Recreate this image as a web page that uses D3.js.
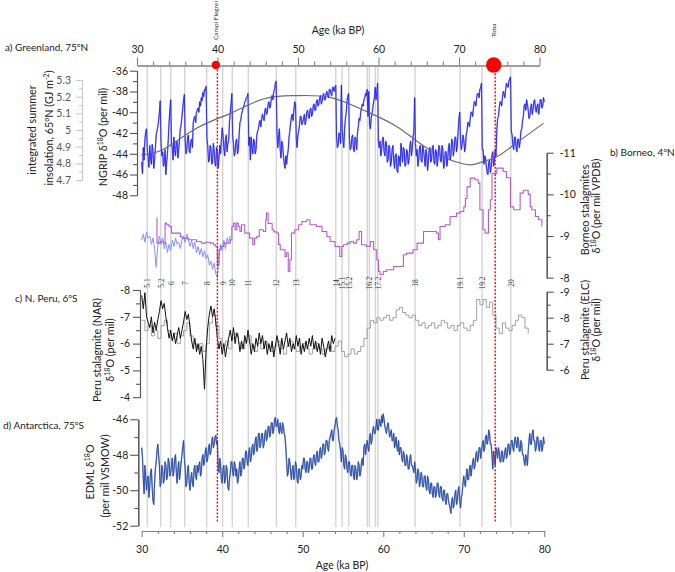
<!DOCTYPE html>
<html><head><meta charset="utf-8">
<script src="https://cdn.jsdelivr.net/npm/d3@7"></script>
<style>body{margin:0;background:#fff} svg{display:block}</style>
</head><body><svg id="c" width="675" height="572"></svg>
<script>
// ---------------- DATA ----------------
const iceStart = 30, iceStep = 0.1;
// NGRIP d18O (per mil), 30-80 ka at 0.1 ka (one row per ka)
const ngrip = [
-44.8,-45.9,-43.4,-44.6,-42.6,-41.9,-41.6,-43.6,-44.4,-45.3,
-43.2,-44.4,-45.0,-43.1,-43.8,-45.4,-44.6,-43.4,-42.2,-41.8,
-41.4,-40.8,-40.0,-38.9,-43.0,-44.2,-43.8,-45.2,-44.9,-43.6,
-46.0,-44.8,-44.0,-42.6,-41.0,-39.8,-38.8,-43.0,-43.5,-44.6,
-42.4,-43.6,-44.2,-42.9,-42.8,-44.4,-43.6,-42.6,-41.6,-41.2,
-40.4,-39.6,-38.8,-38.3,-42.8,-44.0,-43.6,-42.4,-42.2,-43.8,
-43.9,-42.8,-42.6,-43.4,-41.0,-40.6,-40.4,-41.0,-40.0,-39.8,
-39.6,-40.0,-39.0,-39.4,-38.6,-38.9,-38.1,-38.5,-37.8,-37.9,
-37.5,-42.6,-43.2,-44.8,-44.6,-43.2,-43.4,-45.0,-44.8,-43.0,
-43.6,-44.9,-45.2,-43.4,-43.8,-45.4,-44.4,-43.2,-44.0,-42.6,
-41.5,-42.2,-43.4,-44.2,-42.6,-42.2,-43.8,-43.0,-42.8,-41.0,
-40.0,-39.2,-38.2,-42.4,-43.0,-44.2,-43.9,-42.8,-42.6,-44.0,
-43.6,-42.2,-41.0,-40.8,-40.2,-39.9,-39.6,-39.4,-39.0,-38.9,
-38.6,-38.5,-38.2,-43.2,-42.4,-44.6,-42.4,-43.4,-44.0,-42.6,
-42.8,-44.0,-43.6,-42.2,-41.8,-41.6,-41.0,-40.8,-41.4,-40.6,
-40.2,-40.6,-40.8,-39.8,-39.6,-40.2,-40.0,-39.2,-39.0,-39.6,
-39.4,-38.6,-38.4,-38.8,-38.0,-37.8,-37.2,-37.0,-42.0,-43.4,
-42.4,-41.6,-43.6,-44.4,-42.8,-43.2,-44.2,-45.0,-45.4,-44.2,
-45.0,-44.2,-43.6,-42.4,-41.8,-41.0,-40.4,-40.2,-40.8,-39.8,
-39.0,-39.2,-42.6,-43.4,-42.2,-41.8,-41.2,-40.4,-40.4,-41.2,
-41.0,-40.6,-40.2,-41.2,-40.8,-40.0,-39.8,-40.4,-40.6,-39.8,
-39.6,-40.4,-40.2,-39.4,-39.2,-39.8,-39.8,-39.0,-38.8,-39.4,
-39.2,-38.6,-38.4,-39.2,-39.0,-38.4,-38.2,-38.8,-38.8,-38.2,
-38.0,-38.4,-38.6,-37.8,-37.8,-38.2,-38.4,-37.6,-37.6,-38.0,
-37.6,-37.4,-42.4,-43.4,-43.2,-42.0,-42.2,-43.0,-37.4,-41.6,
-42.8,-43.4,-41.6,-40.6,-40.0,-39.0,-38.4,-38.2,-42.6,-43.6,
-43.4,-42.4,-42.2,-43.6,-43.8,-42.4,-42.6,-43.6,-42.0,-41.4,
-40.6,-40.8,-40.0,-39.6,-39.2,-39.4,-38.8,-38.6,-38.2,-38.4,
-37.8,-40.4,-38.0,-41.2,-41.6,-40.6,-40.2,-39.6,-39.0,-38.6,
-37.6,-38.8,-38.0,-37.2,-42.8,-43.4,-42.8,-44.2,-43.6,-42.6,
-42.4,-43.8,-44.2,-42.8,-43.0,-44.8,-44.6,-43.2,-43.4,-45.2,
-44.8,-43.6,-43.2,-44.6,-45.4,-44.2,-44.0,-45.6,-45.8,-44.2,
-44.4,-45.2,-43.0,-43.8,-44.8,-43.4,-43.6,-45.2,-45.0,-43.6,
-43.8,-45.0,-44.6,-43.2,-42.8,-44.2,-43.6,-42.4,-41.8,-38.6,
-43.0,-44.2,-43.6,-45.2,-44.6,-43.4,-43.2,-44.6,-44.8,-43.2,
-43.6,-44.4,-45.2,-43.6,-44.0,-45.6,-44.8,-43.6,-43.4,-44.8,
-44.6,-43.4,-43.2,-44.8,-45.0,-43.6,-43.8,-45.2,-44.4,-43.2,
-43.4,-44.6,-44.8,-43.2,-43.6,-45.4,-45.0,-43.8,-43.8,-45.2,
-44.6,-43.4,-43.0,-44.6,-44.2,-42.6,-42.8,-44.2,-43.6,-42.4,
-42.4,-43.8,-43.2,-41.8,-40.6,-40.0,-42.8,-43.6,-43.0,-42.2,
-42.6,-43.8,-43.4,-42.2,-41.8,-41.0,-41.0,-41.4,-40.6,-40.0,
-40.0,-40.4,-39.6,-39.0,-39.0,-39.4,-38.6,-38.2,-38.2,-38.6,
-37.8,-37.6,-37.2,-43.6,-43.6,-45.0,-44.2,-44.4,-45.2,-45.8,
-46.0,-44.8,-44.6,-45.8,-45.4,-44.2,-43.8,-45.2,-44.8,-43.6,
-44.2,-41.8,-40.6,-40.4,-39.6,-39.0,-39.0,-39.4,-38.6,-38.0,
-38.2,-38.6,-37.8,-37.2,-37.4,-37.6,-37.0,-36.8,-36.6,-41.8,
-42.2,-43.2,-43.6,-42.4,-42.4,-43.4,-43.8,-42.6,-42.6,-43.4,
-42.8,-41.8,-41.6,-40.8,-40.4,-39.4,-39.2,-39.8,-38.8,-39.2,
-39.8,-40.6,-40.4,-39.6,-39.2,-40.2,-39.8,-39.0,-38.8,-39.6,
-40.0,-39.4,-39.2,-40.2,-39.6,-38.8,-38.8,-39.6,-39.4,-38.6,
-39.0];
// EDML d18O (per mil VSMOW), 30-80 ka at 0.1 ka (one row per ka)
const edml = [
-47.6,-48.2,-49.4,-50.2,-48.6,-49.2,-50.0,-49.4,-49.2,-50.4,
-49.8,-49.0,-48.8,-49.8,-50.6,-50.8,-49.6,-48.8,-48.4,-47.8,
-47.4,-48.0,-48.6,-49.8,-49.6,-48.6,-48.8,-49.6,-49.4,-48.4,
-48.6,-49.4,-49.2,-48.2,-48.4,-49.2,-49.0,-48.6,-48.2,-49.2,
-48.9,-48.2,-48.0,-49.0,-49.6,-48.8,-48.4,-49.4,-49.0,-48.4,
-48.0,-47.6,-47.2,-48.2,-48.8,-49.8,-49.6,-48.8,-48.6,-49.6,
-50.0,-49.4,-49.0,-49.6,-49.8,-48.8,-48.6,-49.2,-49.4,-48.6,
-49.0,-48.6,-48.4,-49.2,-49.0,-48.2,-48.0,-48.6,-48.4,-47.8,
-47.6,-48.4,-48.2,-47.6,-47.4,-48.0,-47.8,-47.2,-47.0,-47.6,
-47.4,-47.0,-46.9,-47.4,-47.2,-48.8,-49.0,-48.2,-48.6,-49.4,
-49.6,-48.8,-48.6,-49.6,-49.4,-48.6,-48.8,-49.8,-50.0,-49.4,
-49.0,-48.4,-48.4,-49.0,-49.2,-48.4,-48.6,-49.2,-48.8,-49.6,
-49.4,-48.8,-48.4,-49.2,-49.0,-48.2,-48.2,-48.8,-48.6,-47.8,
-47.8,-48.4,-48.6,-47.8,-47.6,-48.4,-48.2,-47.6,-47.4,-48.0,
-47.8,-47.2,-47.0,-47.8,-47.6,-46.8,-46.8,-47.6,-47.4,-46.8,
-46.8,-47.6,-47.4,-46.8,-46.6,-47.2,-47.0,-46.4,-46.4,-47.0,
-46.8,-46.2,-46.2,-46.8,-46.6,-46.0,-45.9,-46.4,-46.4,-46.0,
-46.6,-46.8,-46.2,-46.6,-46.8,-46.2,-46.4,-46.8,-47.0,-47.6,
-48.4,-49.2,-49.0,-48.2,-48.4,-49.0,-49.4,-48.8,-48.6,-49.4,
-49.2,-48.4,-48.6,-49.4,-49.6,-48.8,-48.8,-49.4,-49.2,-48.6,
-48.8,-48.2,-48.2,-48.8,-49.0,-48.4,-48.4,-49.0,-48.8,-48.2,
-48.2,-48.8,-48.8,-48.2,-48.0,-48.4,-48.6,-48.0,-47.8,-48.4,
-48.4,-47.8,-47.6,-48.2,-48.0,-47.4,-47.4,-48.0,-47.8,-47.2,
-47.2,-47.6,-47.8,-47.2,-47.0,-46.8,-46.6,-47.2,-47.2,-46.6,
-46.4,-46.0,-45.9,-46.4,-46.6,-47.2,-47.4,-47.8,-48.4,-47.6,
-47.8,-48.6,-48.8,-48.0,-48.2,-48.8,-49.0,-48.4,-48.4,-49.0,
-49.2,-48.6,-48.6,-49.2,-49.4,-48.6,-48.8,-49.4,-49.2,-48.4,
-48.6,-49.2,-49.0,-48.4,-48.2,-48.6,-47.6,-47.4,-48.0,-47.6,
-47.2,-47.6,-47.8,-47.0,-46.8,-47.4,-47.2,-46.6,-46.4,-46.8,
-46.8,-46.4,-46.0,-46.6,-46.6,-46.0,-46.2,-46.4,-45.8,-46.2,
-45.7,-46.0,-46.4,-46.6,-46.8,-46.4,-46.2,-46.6,-47.0,-46.8,
-46.6,-47.2,-47.2,-46.8,-47.6,-47.4,-47.0,-47.6,-47.8,-47.2,
-48.0,-47.6,-47.6,-48.2,-48.4,-47.8,-48.0,-48.6,-48.6,-48.0,
-48.2,-48.8,-48.8,-48.2,-48.0,-48.6,-48.6,-48.8,-49.0,-48.4,
-48.8,-49.6,-49.4,-48.8,-49.0,-49.8,-49.6,-49.0,-49.2,-49.8,
-49.8,-49.2,-49.2,-49.8,-50.0,-49.2,-49.4,-50.0,-50.2,-49.6,
-49.6,-50.2,-50.4,-49.8,-49.8,-50.4,-50.2,-49.6,-49.6,-50.2,
-50.4,-49.8,-49.8,-50.4,-50.6,-50.0,-50.0,-50.6,-50.8,-50.2,
-50.2,-50.6,-50.8,-51.0,-51.3,-50.6,-50.4,-51.0,-50.8,-50.2,
-50.0,-50.8,-50.6,-50.0,-49.8,-50.6,-51.0,-50.4,-50.2,-49.6,
-49.2,-49.6,-49.8,-49.2,-48.8,-49.4,-49.4,-48.8,-48.6,-49.2,
-48.8,-48.4,-48.2,-48.8,-48.6,-48.0,-47.8,-48.4,-48.2,-47.6,
-47.6,-48.2,-47.8,-47.4,-47.2,-47.8,-47.6,-47.0,-46.9,-47.4,
-47.2,-46.6,-46.8,-47.4,-47.4,-48.0,-48.8,-47.8,-48.2,-48.6,
-47.6,-47.8,-48.2,-47.6,-47.8,-48.4,-48.4,-47.8,-47.8,-48.4,
-48.2,-47.8,-47.6,-48.2,-48.0,-47.4,-47.4,-48.0,-47.8,-47.2,
-47.2,-47.6,-47.8,-47.2,-47.0,-47.4,-47.6,-47.0,-47.2,-47.8,
-47.8,-47.2,-47.4,-48.0,-48.0,-48.4,-48.6,-48.0,-48.2,-48.6,
-47.8,-47.2,-46.8,-47.4,-47.4,-46.8,-46.6,-47.2,-47.2,-47.8,
-47.6,-47.0,-47.0,-47.6,-47.8,-47.2,-47.2,-47.8,-47.6,-47.0,
-47.4];
// 65N integrated summer insolation (GJ m-2)
const insolation = [[29.9,4.85],[32.7,4.884],[36.8,5.01],[41.0,5.10],[45.1,5.186],[49.1,5.206],[53.4,5.196],[57.5,5.12],[61.7,5.02],[65.8,4.88],[70.0,4.796],[72.0,4.804],[74.1,4.84],[76.2,4.91],[79.9,5.04]];
// Borneo stalagmites d18O (per mil VPDB), stepped record [age, value]
const borneo = [[31.86,-9.43],[31.9,-8.83],[32.3,-8.87],[32.7,-8.83],[32.9,-9.31],[33.1,-9.27],[33.4,-9.23],[33.7,-9.07],[34.5,-9.07],[34.8,-8.99],[35.0,-8.95],[35.8,-8.91],[36.8,-8.87],[37.4,-8.83],[37.9,-8.85],[38.5,-8.83],[38.9,-8.79],[39.2,-8.75],[39.4,-8.3],[39.6,-8.67],[39.8,-8.75],[40.2,-8.83],[41.0,-8.91],[41.2,-9.23],[41.4,-9.31],[41.6,-9.15],[41.8,-9.31],[42.0,-9.23],[42.2,-9.11],[42.4,-9.27],[42.8,-9.07],[43.4,-8.95],[43.8,-8.79],[44.0,-8.95],[44.3,-8.99],[44.6,-9.15],[45.1,-9.11],[45.4,-9.39],[45.5,-9.55],[45.7,-9.3],[46.2,-9.15],[46.4,-9.1],[46.8,-9.07],[47.0,-8.8],[47.2,-8.67],[47.8,-8.51],[48.0,-8.6],[48.2,-8.15],[48.4,-8.43],[48.6,-9.07],[49.0,-9.15],[49.5,-9.27],[49.9,-9.35],[50.5,-9.39],[50.9,-9.27],[51.7,-9.23],[52.4,-9.11],[53.0,-8.99],[53.4,-8.87],[54.0,-8.75],[54.6,-8.51],[54.85,-8.75],[55.05,-8.79],[55.5,-8.83],[55.9,-8.87],[56.3,-8.83],[56.7,-8.91],[57.0,-9.11],[57.3,-8.79],[57.9,-8.75],[58.4,-8.87],[58.8,-8.67],[59.2,-8.43],[59.4,-8.15],[59.6,-8.07],[60.0,-8.15],[60.4,-8.19],[61.3,-8.27],[62.5,-8.55],[62.9,-8.59],[63.7,-8.67],[64.2,-8.83],[65.0,-9.11],[66.6,-9.07],[66.85,-8.91],[67.05,-9.23],[67.7,-9.27],[68.3,-9.47],[69.1,-9.55],[69.55,-9.59],[70.0,-9.7],[70.2,-9.9],[70.4,-10.18],[70.8,-10.39],[71.4,-10.35],[71.8,-10.27],[72.0,-9.63],[72.4,-9.15],[72.65,-9.07],[73.06,-9.63],[73.3,-9.87],[73.5,-10.5],[74.1,-10.63],[74.9,-10.55],[75.3,-10.4],[75.8,-9.7],[76.2,-9.63],[77.0,-10.03],[77.4,-10.1],[78.0,-10.0],[78.25,-9.7],[78.45,-9.63],[78.9,-9.47],[79.3,-9.39],[79.7,-9.23]];
// second Borneo record (light blue), 30-41 ka at 0.2 ka
const caveStart = 30, caveStep = 0.2;
const borneo2 = [
-8.9,-9.05,-8.85,-9.1,-8.95, -9.0,-8.8,-8.95,-8.7,-8.25,
-8.75,-9.0,-8.8,-8.95,-8.7, -8.85,-8.6,-8.8,-8.65,-8.9,
-8.75,-8.95,-8.8,-8.85,-8.7, -8.9,-9.0,-8.85,-9.05,-8.9,
-8.75,-8.9,-8.7,-8.85,-8.6, -8.75,-8.55,-8.7,-8.5,-8.65,
-8.45,-8.55,-8.3,-8.4,-8.2, -8.35,-8.1,-8.0,-8.5,-8.8,
-8.65,-8.9,-8.7,-8.95,-8.85, -9.0];
// Peru stalagmite NAR d18O, 30-54 ka at 0.2 ka
const nar = [
-7.8,-7.3,-7.9,-7.0,-6.8, -6.6,-7.0,-6.4,-6.8,-6.5,
-6.9,-7.2,-7.6,-7.3,-7.5, -7.0,-6.6,-6.2,-6.5,-6.1,
-6.4,-6.0,-6.3,-6.6,-6.2, -6.5,-6.8,-7.2,-6.9,-7.1,
-6.6,-6.1,-5.8,-6.2,-5.7, -6.0,-5.6,-5.9,-5.4,-4.3,
-5.8,-6.6,-7.1,-7.4,-7.0, -7.3,-6.8,-6.2,-5.8,-6.1,
-5.6,-6.0,-5.5,-5.9,-6.2, -6.5,-6.1,-6.6,-6.0,-6.4,
-6.2,-5.7,-6.1,-5.8,-6.3, -6.0,-6.5,-6.1,-5.6,-6.0,
-5.7,-6.2,-5.9,-6.4,-6.0, -6.3,-5.8,-6.1,-5.6,-6.0,
-5.7,-6.1,-5.5,-5.9,-6.3, -6.0,-5.6,-6.2,-5.8,-6.1,
-6.4,-5.9,-6.2,-5.7,-6.0, -5.8,-6.3,-5.9,-6.2,-5.6,
-6.0,-5.7,-6.1,-5.8,-6.2, -5.9,-6.3,-5.8,-6.1,-5.7,
-6.0,-5.6,-6.2,-5.9,-5.5, -5.8,-6.1,-5.7,-6.3,-6.0,
-6.2];
// Peru stalagmite ELC d18O [age, value]
const elc = [[30.0,-7.9],[30.4,-7.5],[30.8,-7.7],[31.2,-7.3],[31.6,-7.5],[32.0,-7.2],[32.4,-7.7],[32.8,-7.9],[33.2,-7.5],[33.6,-7.2],[34.0,-7.4],[34.4,-7.0],[34.8,-7.3],[35.2,-7.5],[35.6,-7.8],[36.0,-7.3],[36.4,-7.0],[36.8,-6.8],[37.2,-7.0],[37.6,-6.7],[38.0,-7.0],[38.4,-7.8],[38.8,-8.1],[39.2,-7.7],[39.6,-7.2],[40.0,-6.9],[40.4,-7.1],[40.8,-6.8],[41.2,-7.2],[41.6,-7.4],[42.0,-7.0],[42.4,-6.8],[42.8,-7.1],[43.2,-7.3],[43.6,-6.9],[44.0,-6.7],[44.4,-7.0],[44.8,-6.8],[45.2,-7.1],[45.6,-6.9],[46.0,-6.7],[46.4,-6.9],[46.8,-7.1],[47.2,-6.8],[47.6,-6.6],[48.0,-6.9],[48.4,-7.1],[48.8,-6.8],[49.2,-6.7],[49.6,-6.9],[50.0,-7.0],[50.4,-6.8],[50.8,-6.6],[51.2,-6.8],[51.6,-7.0],[52.0,-6.8],[52.4,-6.6],[52.8,-6.8],[53.2,-6.9],[53.6,-6.7],[54.0,-6.9],[54.4,-7.1],[54.8,-6.7],[55.2,-6.5],[55.6,-6.6],[56.0,-6.8],[56.4,-6.6],[56.8,-6.7],[57.2,-6.9],[57.6,-7.2],[58.0,-7.6],[58.4,-7.9],[58.8,-7.8],[59.2,-8.0],[59.6,-7.9],[60.0,-8.0],[60.4,-8.1],[60.8,-7.9],[61.2,-8.0],[61.6,-8.3],[62.0,-8.4],[62.4,-8.2],[62.8,-8.1],[63.2,-8.0],[63.6,-8.1],[64.0,-7.9],[64.4,-7.7],[64.8,-7.8],[65.2,-7.6],[65.6,-7.7],[66.0,-7.8],[66.4,-7.6],[66.8,-7.7],[67.2,-7.9],[67.6,-7.8],[68.0,-7.6],[68.4,-7.7],[68.8,-7.5],[69.2,-7.7],[69.6,-7.8],[70.0,-7.6],[70.4,-7.5],[70.8,-7.7],[71.2,-7.9],[71.6,-8.7],[72.0,-8.5],[72.4,-8.7],[72.8,-8.4],[73.2,-8.6],[73.6,-8.1],[74.0,-7.6],[74.4,-7.4],[74.8,-7.8],[75.2,-7.6],[75.6,-7.5],[76.0,-7.7],[76.4,-7.9],[76.8,-8.1],[77.2,-8.0],[77.6,-7.6],[78.0,-7.4]];
// Greenland interstadial onsets (ka) and labels
const giAges = [30.70,32.36,33.60,35.34,38.07,40.06,41.25,43.24,46.72,49.13,54.10,54.88,55.71,58.02,58.27,59.02,59.32,63.95,69.54,72.27,75.84];
const giLabels = ['5.1','5.2','6','7','8','9','10','11','12','13','14','15.1','15.2','','16.2','','17.2','18','19.1','19.2','20'];
// eruptions
const eruptions = [{name:'Campi Flegrei', age:39.4, r:4.2, top:40},{name:'Toba', age:73.9, r:7.7, top:37}];
const ageTicks = [30,40,50,60,70,80];
const ageMinor = [32,34,36,38,42,44,46,48,52,54,56,58,62,64,66,68,72,74,76,78];

// ---------------- CHART ----------------
const svg = d3.select('#c');
const FONT = 'Lato, "Open Sans", sans-serif';
const xB = d3.scaleLinear([30,80],[141.7,544.3]);
const xT = d3.scaleLinear([30,80],[137,539.5]);
const yA = d3.scaleLinear([-36,-48],[70.7,195.3]);
const yIns = d3.scaleLinear([5.3,4.7],[80,180]);
const yB = d3.scaleLinear([-11,-8],[152.7,277.7]);
const yNAR = d3.scaleLinear([-8,-4],[290,397.2]);
const yELC = d3.scaleLinear([-9,-6],[291.7,369.7]);
const yD = d3.scaleLinear([-46,-52],[419.3,525.7]);

const grid = (arr, s0, st) => arr.map((v,i)=>[s0+i*st, v]);

// interstadial lines
svg.append('g').selectAll('line').data(giAges).join('line')
  .attr('x1',d=>xB(d)).attr('x2',d=>xB(d)).attr('y1',67).attr('y2',527)
  .attr('stroke','#d4d4d4').attr('stroke-width',1.4);
svg.append('g').selectAll('text').data(giAges.map((a,i)=>({a,l:giLabels[i]})).filter(d=>d.l)).join('text')
  .attr('transform',d=>`translate(${xB(d.a)+3},283) rotate(-90)`)
  .attr('text-anchor','middle').attr('font-family','"Liberation Serif", serif').attr('font-size',7.5)
  .attr('fill','#333').text(d=>d.l);

function axis(orient, scale, tx, ty, majors, minors, majLen, minLen, pad, color, tcolor, fs){
  const A = {left:d3.axisLeft,right:d3.axisRight,top:d3.axisTop,bottom:d3.axisBottom}[orient];
  const g = svg.append('g').attr('transform',`translate(${tx},${ty})`);
  if (minors.length) g.append('g').call(A(scale).tickValues(minors).tickSize(minLen).tickSizeOuter(0).tickFormat(''));
  g.append('g').call(A(scale).tickValues(majors).tickSize(majLen).tickSizeOuter(0).tickPadding(pad).tickFormat(d=>String(d)));
  g.selectAll('path,line').attr('stroke',color).attr('stroke-width',1.1);
  g.selectAll('text').attr('fill',tcolor).attr('font-size',fs).attr('font-family',FONT);
  return g;
}
function rich(x, y, rot, parts, fs, anchor, color){
  const t = svg.append('text').attr('transform',`translate(${x},${y})${rot?` rotate(${rot})`:''}`)
    .attr('text-anchor',anchor||'middle').attr('font-family',FONT).attr('font-size',fs).attr('fill',color||'#222');
  let pending = 0;
  parts.forEach(p=>{
    if (typeof p === 'string') { const s = t.append('tspan').text(p); if (pending) s.attr('dy',pending); pending = 0; }
    else { t.append('tspan').attr('dy',-fs*0.38).attr('font-size',fs*0.65).text(p.sup); pending = fs*0.38; }
  });
  return t;
}

// Axes
axis('top', xT, 0, 65.5, ageTicks, ageMinor, 8, 4, 5, '#808080', '#222', 10.5);
axis('bottom', xB, 0, 531, ageTicks, ageMinor, 6, 3, 9, '#808080', '#222', 10.5);
axis('left', yA, 137, 0, [-36,-38,-40,-42,-44,-46,-48], [-37,-39,-41,-43,-45,-47], 7, 4, 2, '#555', '#222', 10.5);
axis('left', yIns, 82, 0, [5.3,5.2,5.1,5,4.9,4.8,4.7], [5.25,5.15,5.05,4.95,4.85,4.75], 6, 3, 5, '#c8c8c8', '#555', 10.5);
axis('right', yB, 546.7, 0, [-11,-10,-9,-8], [-10.5,-9.5,-8.5], 7, 4, 6, '#555', '#222', 10.5);
axis('right', yELC, 546.7, 0, [-9,-8,-7,-6], [-8.5,-7.5,-6.5], 7, 4, 6, '#555', '#222', 10.5);
axis('left', yNAR, 140, 0, [-8,-7,-6,-5,-4], [-7.5,-6.5,-5.5,-4.5], 7, 4, 3, '#555', '#222', 10.5);
axis('left', yD, 138.3, 0, [-46,-48,-50,-52], [-47,-49,-51], 8, 4, 2, '#555', '#222', 10.5);

// Axis titles
rich(338, 33.5, 0, ['Age (ka BP)'], 10.5);
rich(342, 568.5, 0, ['Age (ka BP)'], 10.5);
rich(107, 137, -90, ['NGRIP \u03B4',{sup:'18'},'O (per mil)'], 10.8);
rich(35.5, 130, -90, ['integrated summer'], 10.8);
rich(53, 128, -90, ['insolation, 65',{sup:'o'},'N (GJ m',{sup:'-2'},')'], 10.8);
rich(589, 210, -90, ['Borneo stalagmites'], 10.8);
rich(600, 206, -90, ['\u03B4',{sup:'18'},'O (per mil VPDB)'], 10.8);
rich(589, 330, -90, ['Peru stalagmite (ELC)'], 10.8);
rich(600, 330, -90, ['\u03B4',{sup:'18'},'O (per mil)'], 10.8);
rich(100.5, 350, -90, ['Peru stalagmite (NAR)'], 10.8);
rich(114, 350, -90, ['\u03B4',{sup:'18'},'O (per mil)'], 10.8);
rich(94, 472, -90, ['EDML \u03B4',{sup:'18'},'O'], 10.8);
rich(109, 476, -90, ['(per mil VSMOW)'], 10.8);

// panel labels
rich(5, 51, 0, ['a) Greenland, 75',{sup:'o'},'N'], 10, 'start');
rich(610, 155.5, 0, ['b) Borneo, 4',{sup:'o'},'N'], 10, 'start');
rich(15, 302, 0, ['c) N. Peru, 6',{sup:'o'},'S'], 10, 'start');
rich(3, 429, 0, ['d) Antarctica, 75',{sup:'o'},'S'], 10, 'start');

// insolation
svg.append('path').datum(insolation)
  .attr('d', d3.line().x(d=>xB(d[0])).y(d=>yIns(d[1])).curve(d3.curveNatural))
  .attr('fill','none').attr('stroke','#6b6b6b').attr('stroke-width',1.2);

function series(data, xs, ys, light, dark, wl, wd, curve){
  const ln = d3.line().x(d=>xs(d[0])).y(d=>ys(d[1])).curve(curve||d3.curveLinear);
  if (light) svg.append('path').datum(data).attr('d',ln).attr('fill','none').attr('stroke',light).attr('stroke-width',wl).attr('stroke-linejoin','round');
  svg.append('path').datum(data).attr('d',ln).attr('fill','none').attr('stroke',dark).attr('stroke-width',wd).attr('stroke-linejoin','round');
}
series(grid(ngrip, iceStart, iceStep), xB, yA, '#a0a0ff', '#1414f0', 1.5, 0.8);
series(grid(borneo2, caveStart, caveStep), xB, yB, null, '#8490ff', 0, 1.0);
series(borneo, xB, yB, null, '#b65ad0', 0, 1.1, d3.curveStepAfter);
series(elc, xB, yELC, null, '#a0a0a0', 0, 1.0, d3.curveStepAfter);
series(grid(nar, caveStart, caveStep), xB, yNAR, null, '#111', 0, 1.0);
series(grid(edml, iceStart, iceStep), xB, yD, '#8ea4d6', '#1d3f98', 1.5, 0.8);

// eruptions
eruptions.forEach(e=>{
  const x = xB(e.age);
  svg.append('line').attr('x1',x).attr('x2',x).attr('y1',66).attr('y2',522)
    .attr('stroke','#ff0000').attr('stroke-width',1.4).attr('stroke-dasharray','2,1.6');
  svg.append('circle').attr('cx',x-1.5).attr('cy',65).attr('r',e.r).attr('fill','#ff0000');
  svg.append('text').attr('transform',`translate(${x+1},${e.top}) rotate(-90)`)
    .attr('font-family',FONT).attr('font-size',6.5).attr('fill','#333').text(e.name);
});
</script></body></html>
